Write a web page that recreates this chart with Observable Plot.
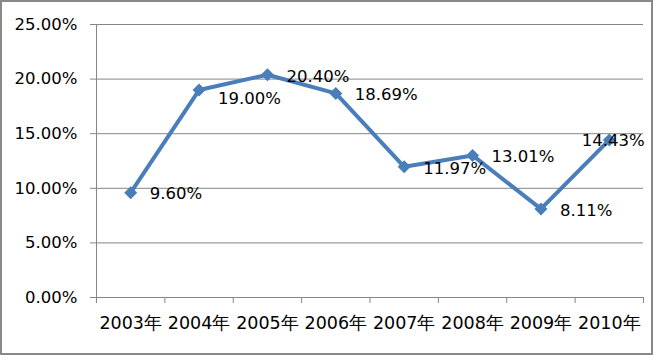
<!DOCTYPE html>
<html>
<head>
<meta charset="utf-8">
<script src="https://cdn.jsdelivr.net/npm/d3@7"></script>
<script src="https://cdn.jsdelivr.net/npm/@observablehq/plot@0.6"></script>
<style>
  body { margin: 0; background: #fff; }
  #chart svg { outline: 2px solid #888888; outline-offset: -2px; display: block; }
</style>
</head>
<body>
<div id="chart"></div>
<script>
const years = ["2003年", "2004年", "2005年", "2006年", "2007年", "2008年", "2009年", "2010年"];
const rates = [0.0960, 0.1900, 0.2040, 0.1869, 0.1197, 0.1301, 0.0811, 0.1443];
const yTicks = [0, 0.05, 0.10, 0.15, 0.20, 0.25];

const data = years.map((year, i) => ({year, i: i + 0.5, rate: rates[i]}));
const boundaries = d3.range(0, years.length + 1);
const fmt = v => (v * 100).toFixed(2) + "%";

const font = "DejaVu Sans, sans-serif";
const plot = Plot.plot({
  width: 653,
  height: 355,
  marginLeft: 96,
  marginRight: 10,
  marginTop: 24,
  marginBottom: 58,
  style: {fontFamily: font, fontSize: "16.5px", color: "#000", background: "#fff"},
  x: {type: "linear", domain: [0, years.length], ticks: boundaries, tickSize: 6, tickFormat: () => "", label: null},
  y: {domain: [0, 0.25], ticks: yTicks, tickFormat: fmt, tickSize: 6, tickPadding: 13, label: null},
  marks: [
    Plot.ruleY(yTicks, {stroke: "#868686", strokeWidth: 1}),
    Plot.ruleX([0], {stroke: "#868686", strokeWidth: 1}),
    Plot.line(data, {x: "i", y: "rate", stroke: "#4A7EBB", strokeWidth: 4}),
    Plot.dot(data, {x: "i", y: "rate", symbol: "square", r: 5.2, rotate: 45, fill: "#4A7EBB", stroke: null}),
    Plot.text(data.filter((d, k) => k !== 1 && k !== 7), {x: "i", y: "rate", text: d => fmt(d.rate), textAnchor: "start", dx: 19, dy: 1.5, fill: "#000"}),
    Plot.text(data.filter((d, k) => k === 1), {x: "i", y: "rate", text: d => fmt(d.rate), textAnchor: "start", dx: 19, dy: 9, fill: "#000"}),
    Plot.text(data.filter((d, k) => k === 7), {x: "i", y: "rate", text: d => fmt(d.rate), textAnchor: "middle", dx: 4, dy: 1, fill: "#000"}),
    Plot.text(data, {x: "i", text: "year", frameAnchor: "bottom", dy: 31, fontSize: 17.5, fill: "#000"})
  ]
});
plot.querySelectorAll("[aria-label='x-axis'] line, [aria-label='y-axis'] line, [aria-label='x-axis tick'] path, [aria-label='y-axis tick'] path").forEach(e => e.setAttribute("stroke", "#868686"));
document.getElementById("chart").appendChild(plot);
</script>
</body>
</html>
